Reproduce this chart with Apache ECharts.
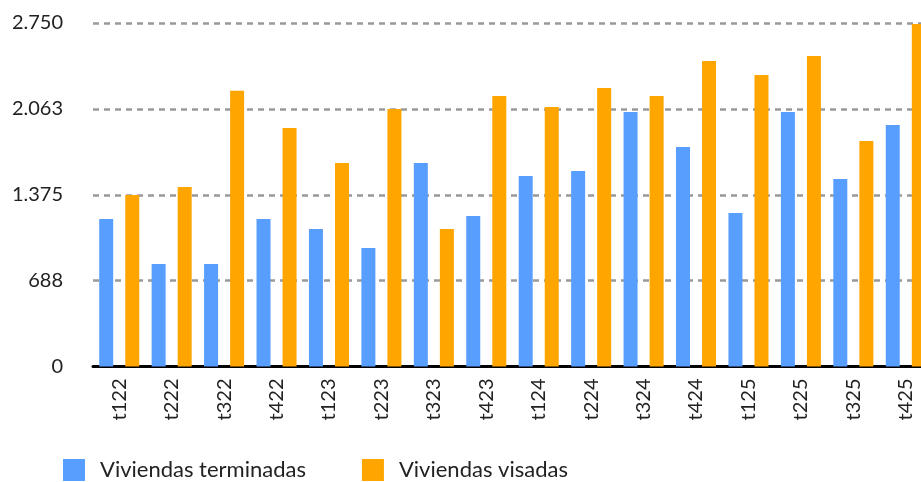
<!DOCTYPE html>
<html lang="es">
<head>
    <meta charset="UTF-8">
    <title>viviendas</title>
    <script src="https://cdn.jsdelivr.net/npm/echarts@6/dist/echarts.min.js"></script>
    <style>
        body { margin: 0; background: #fff; overflow: hidden; }
    </style>
</head>
<body>
    <!-- algo mas ancho que la ventana: la ultima barra queda cortada como en el original -->
    <div id="chart" style="width:932px;height:482px;"></div>
<script>
    // trimestres
    var categorias = ['t122', 't222', 't322', 't422', 't123', 't223', 't323', 't423',
        't124', 't224', 't324', 't424', 't125', 't225', 't325', 't425'];

    var terminadas = [1181, 821, 821, 1181, 1101, 949, 1629, 1205,
        1525, 1565, 2037, 1757, 1229, 2037, 1501, 1933];

    var visadas = [1373, 1437, 2208, 1909, 1629, 2061, 1101, 2165,
        2077, 2229, 2165, 2445, 2333, 2485, 1805, 2741];

    var yMax = 2750;
    var yPaso = 687.5;

    // separador de miles con punto
    function miles(v) {
        var s = String(Math.round(v));
        return s.replace(/\B(?=(\d{3})+(?!\d))/g, '.');
    }

    var chart = echarts.init(document.getElementById('chart'));

    var FUENTE = 'Lato';

    var option = {
        animation: false,
        textStyle: { fontFamily: FUENTE },
        grid: {
            left: 93,
            right: 0,
            top: 23,
            bottom: 115.5,
            containLabel: false
        },
        legend: {
            left: 63,
            bottom: 1,
            padding: 0,
            itemWidth: 22,
            itemHeight: 22,
            itemGap: 56,
            icon: 'rect',
            textStyle: {
                fontFamily: FUENTE,
                fontSize: 22,
                color: '#222',
                padding: [0, 0, 0, 10]
            },
            data: ['Viviendas terminadas', 'Viviendas visadas']
        },
        xAxis: {
            type: 'category',
            data: categorias,
            axisLine: { lineStyle: { color: '#000', width: 3 } },
            axisTick: { show: false },
            axisLabel: {
                rotate: 90,
                margin: 12,
                fontSize: 20,
                color: '#222',
                fontFamily: FUENTE
            }
        },
        yAxis: {
            type: 'value',
            min: 0,
            max: yMax,
            interval: yPaso,
            axisLine: { show: false },
            axisTick: { show: false },
            axisLabel: {
                margin: 30,
                fontSize: 20,
                color: '#222',
                fontFamily: FUENTE,
                formatter: miles
            },
            splitLine: {
                lineStyle: { color: '#999', type: [6, 5], width: 2.5 }
            }
        },
        series: [{
            name: 'Viviendas terminadas',
            type: 'bar',
            data: terminadas,
            barWidth: 14,
            barGap: '86%',
            itemStyle: { color: '#589EFF' }
        }, {
            name: 'Viviendas visadas',
            type: 'bar',
            data: visadas,
            barWidth: 14,
            itemStyle: { color: '#FFA500' }
        }]
    };

    chart.setOption(option);
</script>
</body>
</html>
